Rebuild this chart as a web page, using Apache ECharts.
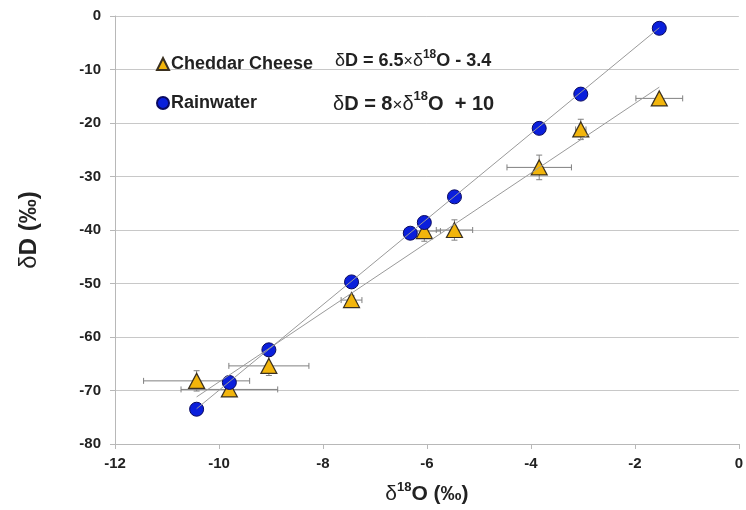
<!DOCTYPE html>
<html>
<head>
<meta charset="utf-8">
<script src="https://cdn.jsdelivr.net/npm/echarts@6/dist/echarts.min.js"></script>
<style>html,body{margin:0;padding:0;background:#fff}#c{width:746px;height:510px}</style>
</head>
<body>
<div id="c"></div>
<script>
const FONT = '"Liberation Sans", Arial, sans-serif';
// Rainwater (circles)
const rainX = [-10.43, -9.80, -9.04, -7.45, -6.32, -6.05, -5.47, -3.84, -3.04, -1.53];
const rainY = [-73.5, -68.5, -62.4, -49.7, -40.6, -38.6, -33.8, -21.0, -14.6, -2.3];
// Cheddar cheese (triangles) with error bars
const cheeseX = [-10.43, -9.80, -9.04, -7.45, -6.05, -5.47, -3.84, -3.04, -1.53];
const cheeseY = [-68.2, -69.8, -65.4, -53.1, -40.2, -40.0, -28.3, -21.2, -15.4];
const cheeseXErr = [1.02, 0.93, 0.77, 0.2, 0.31, 0.35, 0.62, 0.1, 0.45];
const cheeseYErr = [1.9, 1.2, 1.8, 0.8, 1.9, 1.9, 2.3, 1.9, 0.5];
// Regression line end points
const cheeseFitX = [-10.43, -1.53];
const cheeseFitY = [-71.2, -13.3];
const rainFitX = [-10.43, -1.53];
const rainFitY = [-73.4, -2.2];
// Axes
const xMin = -12, xMax = 0, xStep = 2;
const yMin = -80, yMax = 0, yStep = 10;

const zip = (a, b) => a.map((v, i) => [v, b[i]]);
const errData = cheeseX.map((v, i) => [v, cheeseY[i], cheeseXErr[i], cheeseYErr[i]]);

const chart = echarts.init(document.getElementById('c'), null, {renderer: 'canvas'});
const errColor = '#808080';
chart.setOption({
  animation: false,
  backgroundColor: '#fff',
  grid: {left: 115, right: 5, top: 16, bottom: 66},
  xAxis: {
    type: 'value', min: xMin, max: xMax, interval: xStep,
    axisLine: {show: true, onZero: false, lineStyle: {color: '#b8b8b8'}},
    axisTick: {show: true, length: 5, lineStyle: {color: '#b8b8b8'}},
    splitLine: {show: false},
    axisLabel: {margin: 12, fontSize: 15, fontWeight: 'bold', color: '#222', fontFamily: FONT},
    name: '{d|δ}{s|18}{b|O (‰)}',
    nameLocation: 'middle', nameGap: 37,
    nameTextStyle: {
      fontFamily: FONT, color: '#222',
      rich: {
        d: {fontSize: 21, fontFamily: FONT, color: '#222', lineHeight: 24, verticalAlign: 'bottom'},
        s: {fontSize: 13, fontWeight: 'bold', fontFamily: FONT, color: '#222', verticalAlign: 'top', lineHeight: 24},
        b: {fontSize: 21, fontWeight: 'bold', fontFamily: FONT, color: '#222', lineHeight: 24, verticalAlign: 'bottom'}
      }
    }
  },
  yAxis: {
    type: 'value', min: yMin, max: yMax, interval: yStep,
    axisLine: {show: true, onZero: false, lineStyle: {color: '#b8b8b8'}},
    axisTick: {show: true, length: 5, lineStyle: {color: '#b8b8b8'}},
    splitLine: {show: true, lineStyle: {color: '#c8c8c8', width: 1}},
    axisLabel: {margin: 14, fontSize: 15, fontWeight: 'bold', color: '#222', fontFamily: FONT},
    name: '{d|δ}{b|D (‰)}',
    nameLocation: 'middle', nameGap: 74, nameRotate: 90,
    nameTextStyle: {
      fontFamily: FONT, color: '#222',
      rich: {
        d: {fontSize: 24, fontFamily: FONT, color: '#222'},
        b: {fontSize: 24, fontWeight: 'bold', fontFamily: FONT, color: '#222'}
      }
    }
  },
  legend: {
    orient: 'vertical', left: 151, top: 50, itemGap: 21,
    itemWidth: 12, itemHeight: 12,
    textStyle: {fontSize: 18, fontWeight: 'bold', color: '#222', fontFamily: FONT, padding: [0, 0, 0, -3]},
    data: [{name: 'Cheddar Cheese', icon: 'triangle'}, {name: 'Rainwater', icon: 'circle'}]
  },
  graphic: [
    {
      type: 'text', left: 335, top: 49,
      style: {
        text: '{d|δ}{b|D = 6.5}{x|×}{d|δ}{s|18}{b|O - 3.4}',
        rich: {
          d: {fontSize: 18, fontFamily: FONT, fill: '#222', lineHeight: 21, verticalAlign: 'bottom'},
          b: {fontSize: 18, fontWeight: 'bold', fontFamily: FONT, fill: '#222', lineHeight: 21, verticalAlign: 'bottom'},
          x: {fontSize: 16, fontFamily: FONT, fill: '#222', lineHeight: 21, verticalAlign: 'bottom'},
          s: {fontSize: 12, fontWeight: 'bold', fontFamily: FONT, fill: '#222', lineHeight: 21, verticalAlign: 'top'}
        }
      }
    },
    {
      type: 'text', left: 333, top: 90,
      style: {
        text: '{d|δ}{b|D = 8}{x|×}{d|δ}{s|18}{b|O  + 10}',
        rich: {
          d: {fontSize: 20, fontFamily: FONT, fill: '#222', lineHeight: 24, verticalAlign: 'bottom'},
          b: {fontSize: 20, fontWeight: 'bold', fontFamily: FONT, fill: '#222', lineHeight: 24, verticalAlign: 'bottom'},
          x: {fontSize: 17, fontFamily: FONT, fill: '#222', lineHeight: 24, verticalAlign: 'bottom'},
          s: {fontSize: 13, fontWeight: 'bold', fontFamily: FONT, fill: '#222', lineHeight: 24, verticalAlign: 'top'}
        }
      }
    }
  ],
  series: [
    {
      name: 'errors', type: 'custom', z: 1,
      data: errData,
      renderItem: function (params, api) {
        const x = api.value(0), y = api.value(1), ex = api.value(2), ey = api.value(3);
        const l = api.coord([x - ex, y]), r = api.coord([x + ex, y]);
        const t = api.coord([x, y + ey]), b = api.coord([x, y - ey]);
        const cap = 3;
        const st = {stroke: errColor, lineWidth: 1};
        return {
          type: 'group',
          children: [
            {type: 'line', shape: {x1: l[0], y1: l[1], x2: r[0], y2: r[1]}, style: st},
            {type: 'line', shape: {x1: l[0], y1: l[1] - cap, x2: l[0], y2: l[1] + cap}, style: st},
            {type: 'line', shape: {x1: r[0], y1: r[1] - cap, x2: r[0], y2: r[1] + cap}, style: st},
            {type: 'line', shape: {x1: t[0], y1: t[1], x2: b[0], y2: b[1]}, style: st},
            {type: 'line', shape: {x1: t[0] - cap, y1: t[1], x2: t[0] + cap, y2: t[1]}, style: st},
            {type: 'line', shape: {x1: b[0] - cap, y1: b[1], x2: b[0] + cap, y2: b[1]}, style: st}
          ]
        };
      }
    },
    {
      name: 'Cheddar Cheese', type: 'scatter', z: 3,
      symbol: 'triangle', symbolSize: [16, 15],
      itemStyle: {color: '#F2B50C', borderColor: '#3a3020', borderWidth: 1.2, opacity: 1},
      data: zip(cheeseX, cheeseY)
    },
    {
      name: 'Rainwater', type: 'scatter', z: 3,
      symbol: 'circle', symbolSize: 14,
      itemStyle: {color: '#0A1FDC', borderColor: '#0a0a60', borderWidth: 1, opacity: 1},
      data: zip(rainX, rainY)
    },
    {
      name: 'cheeseFit', type: 'line', z: 4, symbol: 'none', silent: true,
      lineStyle: {color: '#9a9a9a', width: 1},
      data: zip(cheeseFitX, cheeseFitY)
    },
    {
      name: 'rainFit', type: 'line', z: 4, symbol: 'none', silent: true,
      lineStyle: {color: '#9a9a9a', width: 1},
      data: zip(rainFitX, rainFitY)
    }
  ]
});
</script>
</body>
</html>
